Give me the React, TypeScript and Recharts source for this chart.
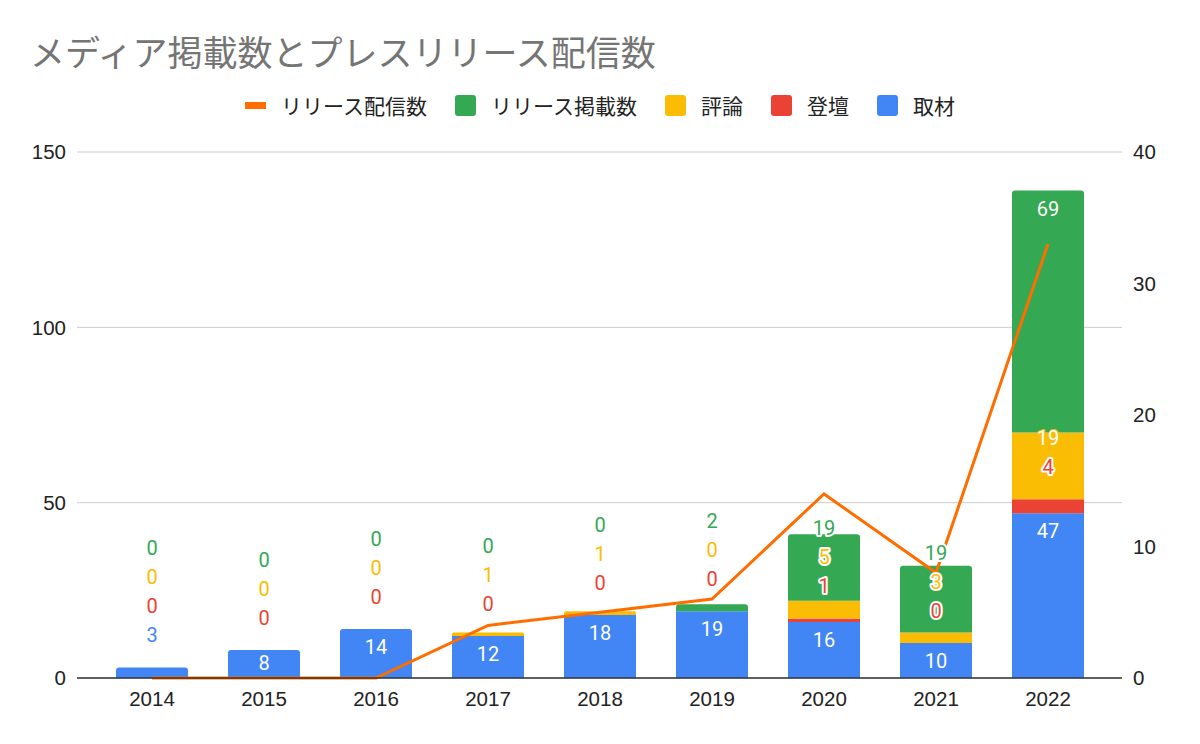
import React from 'react'
import {
  ComposedChart,
  Bar,
  Line,
  XAxis,
  YAxis,
  CartesianGrid,
  LabelList,
  Rectangle,
} from 'recharts'

const years = ['2014', '2015', '2016', '2017', '2018', '2019', '2020', '2021', '2022']
// 取材
const interviews = [3, 8, 14, 12, 18, 19, 16, 10, 47]
// 登壇
const talks = [0, 0, 0, 0, 0, 0, 1, 0, 4]
// 評論
const reviews = [0, 0, 0, 1, 1, 0, 5, 3, 19]
// リリース掲載数
const releaseCoverage = [0, 0, 0, 0, 0, 2, 19, 19, 69]
// リリース配信数 (right axis)
const releases = [0, 0, 0, 4, 5, 6, 14, 8, 33]

const leftTicks = [0, 50, 100, 150]
const rightTicks = [0, 10, 20, 30, 40]

const BLUE = '#4285f4'
const RED = '#ea4335'
const YELLOW = '#fbbc04'
const GREEN = '#34a853'
const ORANGE = '#ff6d01'

const data = years.map((year, i) => ({
  year,
  interviews: interviews[i],
  talks: talks[i],
  reviews: reviews[i],
  releaseCoverage: releaseCoverage[i],
  releases: releases[i],
}))

const stackSeries = [
  { key: 'interviews', name: '取材', color: BLUE, values: interviews },
  { key: 'talks', name: '登壇', color: RED, values: talks },
  { key: 'reviews', name: '評論', color: YELLOW, values: reviews },
  { key: 'releaseCoverage', name: 'リリース掲載数', color: GREEN, values: releaseCoverage },
]

const legendItems = [
  { name: 'リリース配信数', color: ORANGE, line: true },
  { name: 'リリース掲載数', color: GREEN },
  { name: '評論', color: YELLOW },
  { name: '登壇', color: RED },
  { name: '取材', color: BLUE },
]

const LABEL_FONT = 'Roboto, "Liberation Sans", Arial, sans-serif'
const TICK_FONT = '"Liberation Sans", Arial, sans-serif'
const CJK_FONT = '"Noto Sans CJK JP", "Noto Sans", sans-serif'

// Google Sheets style labels: inside the top of a segment if it fits,
// otherwise pushed above and stacked one over the other.
const StackLabels = (props: any) => {
  const { x, y, width, height, index } = props
  const blue = interviews[index]
  if (!blue || !height) return null
  const base = y + height
  const k = height / blue
  const cx = x + width / 2
  const step = 29
  let cum = 0
  let prev = Infinity
  const out: React.ReactNode[] = []
  stackSeries.forEach((s, si) => {
    const v = s.values[index]
    const bottomPx = base - cum * k
    cum += v
    const topPx = base - cum * k
    const h = v * k
    const desired = h >= 20 ? Math.min(topPx + 18, bottomPx - 15) : topPx - 32
    const center = Math.min(desired, prev - step)
    prev = center
    const inside = h >= 20 && center - 4 >= topPx
    out.push(
      <text
        key={si}
        x={cx}
        y={center}
        textAnchor="middle"
        dominantBaseline="central"
        fontFamily={LABEL_FONT}
        fontSize={20}
        fill={inside ? '#ffffff' : s.color}
        stroke={inside ? s.color : '#ffffff'}
        strokeWidth={inside ? 2 : 4}
        strokeLinejoin="round"
        paintOrder="stroke"
      >
        {v}
      </text>
    )
  })
  return <g>{out}</g>
}

const makeShape = (si: number) => (props: any) => {
  const idx = props.index
  const isTop =
    stackSeries[si].values[idx] > 0 &&
    stackSeries.slice(si + 1).every((s) => !s.values[idx])
  return (
    <Rectangle
      x={props.x}
      y={props.y}
      width={props.width}
      height={props.height}
      fill={props.fill}
      radius={isTop ? [3, 3, 0, 0] : 0}
    />
  )
}

export default function App() {
  return (
    <div
      style={{
        position: 'absolute',
        left: 0,
        top: 0,
        width: 1200,
        height: 744,
        background: '#ffffff',
        overflow: 'hidden',
      }}
    >
      <div
        style={{
          position: 'absolute',
          left: 30,
          top: 27,
          fontFamily: CJK_FONT,
          fontSize: 35,
          color: '#757575',
          lineHeight: '48px',
          whiteSpace: 'nowrap',
        }}
      >
        メディア掲載数とプレスリリース配信数
      </div>
      <div
        style={{
          position: 'absolute',
          left: 0,
          top: 91,
          width: 1200,
          display: 'flex',
          justifyContent: 'center',
          alignItems: 'center',
          gap: 28,
          fontFamily: CJK_FONT,
          fontSize: 21,
          color: '#222222',
        }}
      >
        {legendItems.map((item) => (
          <div key={item.name} style={{ display: 'flex', alignItems: 'center', gap: 15 }}>
            <div
              style={{
                width: 21,
                height: item.line ? 7 : 21,
                borderRadius: item.line ? 0 : 3,
                background: item.color,
              }}
            />
            <span style={{ lineHeight: '28px' }}>{item.name}</span>
          </div>
        ))}
      </div>
      <div style={{ position: 'absolute', left: 0, top: 0 }}>
        <ComposedChart
          width={1200}
          height={744}
          data={data}
          margin={{ top: 152, right: 18, bottom: 26, left: 17 }}
          barCategoryGap={40}
        >
          <CartesianGrid yAxisId="left" vertical={false} stroke="#cccccc" />
          <XAxis
            dataKey="year"
            axisLine={{ stroke: '#333333', strokeWidth: 1.5 }}
            tickLine={false}
            tickMargin={7}
            height={40}
            padding={{ left: 19, right: 18 }}
            tick={{ fill: '#222222', fontSize: 20.5, fontFamily: TICK_FONT }}
          />
          <YAxis
            yAxisId="left"
            domain={[0, 150]}
            ticks={leftTicks}
            width={60}
            axisLine={false}
            tickLine={false}
            tickMargin={5}
            tick={{ fill: '#222222', fontSize: 20.5, fontFamily: TICK_FONT }}
          />
          <YAxis
            yAxisId="right"
            orientation="right"
            domain={[0, 40]}
            ticks={rightTicks}
            width={60}
            axisLine={false}
            tickLine={false}
            tickMargin={5}
            tick={{ fill: '#222222', fontSize: 20.5, fontFamily: TICK_FONT, textAnchor: 'start' }}
          />
          {stackSeries.map((s, si) => (
            <Bar
              key={s.key}
              yAxisId="left"
              dataKey={s.key}
              name={s.name}
              stackId="media"
              fill={s.color}
              barSize={72}
              isAnimationActive={false}
              shape={makeShape(si)}
            >
              {si === 0 ? <LabelList dataKey="interviews" content={<StackLabels />} /> : null}
            </Bar>
          ))}
          <Line
            yAxisId="right"
            type="linear"
            dataKey="releases"
            name="リリース配信数"
            stroke={ORANGE}
            strokeWidth={3}
            dot={false}
            activeDot={false}
            isAnimationActive={false}
          />
        </ComposedChart>
      </div>
    </div>
  )
}
